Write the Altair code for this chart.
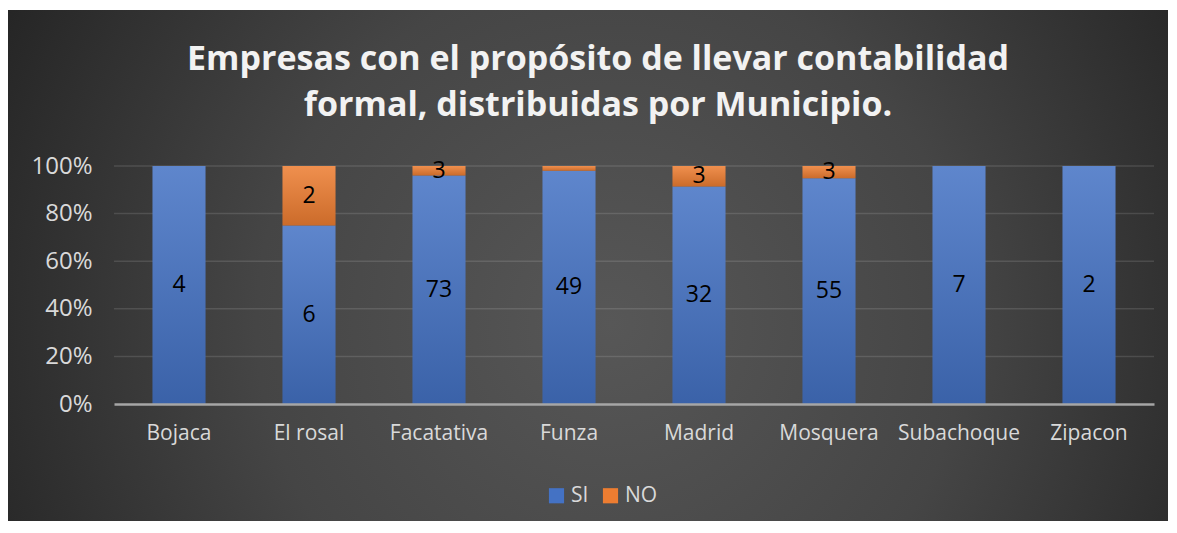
import altair as alt
import pandas as pd

municipios = ["Bojaca", "El rosal", "Facatativa", "Funza", "Madrid", "Mosquera", "Subachoque", "Zipacon"]
si_values = [4, 6, 73, 49, 32, 55, 7, 2]
no_values = [0, 2, 3, 1, 3, 3, 0, 0]
no_label_shown = [False, True, True, False, True, True, False, False]
series = ["SI", "NO"]
y_ticks = [0, 0.2, 0.4, 0.6, 0.8, 1.0]
title_lines = ["Empresas con el propósito de llevar contabilidad", "formal, distribuidas por Municipio."]

rows = []
for i, m in enumerate(municipios):
    rows.append({"Municipio": m, "Serie": "SI", "rank": 0, "value": si_values[i],
                 "show": si_values[i] > 0})
    rows.append({"Municipio": m, "Serie": "NO", "rank": 1, "value": no_values[i],
                 "show": bool(no_label_shown[i]) and no_values[i] > 0})
df = pd.DataFrame(rows)

W, H = 1040, 238
PL, PT, PR, PB = 106, 158, 14, 117

FONT = "Open Sans"

yscale = alt.Scale(domain=[0, 1], nice=False)

bg = alt.Chart(pd.DataFrame({"a": [0]})).mark_rect(
    fill={"gradient": "radial", "x1": 0.52, "y1": 0.55, "r1": 0, "x2": 0.52, "y2": 0.55, "r2": 0.68,
          "stops": [{"offset": 0, "color": "#575757"},
                    {"offset": 0.45, "color": "#454545"},
                    {"offset": 1, "color": "#1b1b1b"}]},
).encode(x=alt.value(-PL), x2=alt.value(W + PR), y=alt.value(-PT + 2), y2=alt.value(H + PB))

grid = alt.Chart(pd.DataFrame({"t": y_ticks[1:]})).mark_rule(
    color="#ffffff", opacity=0.12, strokeWidth=1.5
).encode(y=alt.Y("t:Q", scale=yscale), x=alt.value(0), x2=alt.value(W))

base = alt.Chart(df).transform_joinaggregate(
    total="sum(value)", groupby=["Municipio"]
).transform_calculate(
    pct="datum.value / datum.total"
).transform_window(
    end="sum(pct)", sort=[alt.SortField("rank", order="ascending")], groupby=["Municipio"],
    frame=[None, 0]
).transform_calculate(
    start="datum.end - datum.pct", mid="datum.end - datum.pct / 2"
)

xenc = alt.X("Municipio:N", sort=municipios,
             scale=alt.Scale(paddingInner=0.59, paddingOuter=0.295),
             axis=alt.Axis(title=None, labelAngle=0, labelFontSize=21, labelColor="#d9d9d9",
                           labelFont=FONT, labelPadding=18, ticks=False, domainColor="#a6a6a6",
                           domainWidth=2.5, grid=False, zindex=1))

bars = base.mark_bar(size=53).encode(
    x=xenc,
    y=alt.Y("start:Q", scale=yscale,
            axis=alt.Axis(title=None, format=".0%", values=y_ticks,
                          labelFontSize=24, labelColor="#d9d9d9", labelFont=FONT,
                          labelPadding=22, ticks=False, domain=False, grid=False, zindex=1)),
    y2="end:Q",
    color=alt.Color("Serie:N", scale=alt.Scale(domain=series, range=["#4472C4", "#ED7D31"]),
                    legend=alt.Legend(title=None, orient="none", legendX=432, legendY=319,
                                      direction="horizontal", symbolType="square", symbolSize=230,
                                      symbolStrokeWidth=0, labelFontSize=21, labelColor="#d9d9d9",
                                      labelFont=FONT, columnPadding=11, labelOffset=4)),
)

shade = base.mark_bar(size=53, fill={"gradient": "linear", "x1": 0, "y1": 0, "x2": 0, "y2": 1,
                                       "stops": [{"offset": 0, "color": "rgba(255,255,255,0.14)"},
                                                 {"offset": 1, "color": "rgba(0,0,0,0.14)"}]}).encode(
    x=alt.X("Municipio:N", sort=municipios), y=alt.Y("start:Q", scale=yscale), y2="end:Q")

labels = base.mark_text(fontSize=23, font=FONT, color="#000000", baseline="middle").encode(
    x=alt.X("Municipio:N", sort=municipios),
    y=alt.Y("mid:Q", scale=yscale),
    text="value:Q",
).transform_filter("datum.show")

chart = alt.layer(bg, grid, bars, shade, labels).properties(
    width=W, height=H,
    padding={"left": PL, "top": PT, "right": PR, "bottom": PB},
    autosize=alt.AutoSizeParams(type="none"),
    title=alt.TitleParams(text=title_lines, font=FONT, fontSize=34, fontWeight="bold",
                          color="#f2f2f2", anchor="middle", dx=-36, offset=0, dy=140,
                          baseline="alphabetic", lineHeight=46, zindex=1),
    background="#ffffff",
).configure_view(stroke=None)

chart.save("out.html", embed_options={"renderer": "svg", "actions": False})
